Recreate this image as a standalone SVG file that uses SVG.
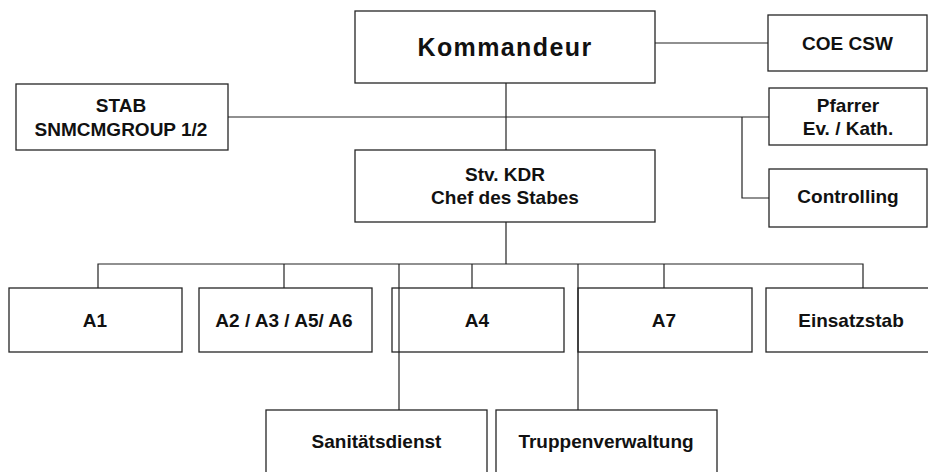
<svg xmlns="http://www.w3.org/2000/svg" width="928" height="472" viewBox="0 0 928 472">
  <style>
    .box { fill: #ffffff; stroke: #262626; stroke-width: 1.3; }
    .lbl { font-family: "Liberation Sans", Arial, sans-serif; font-weight: bold; font-size: 19px; fill: #111111; text-anchor: middle; }
    .big { font-size: 25px; letter-spacing: 1.4px; }
    .wire { fill: none; stroke: #222222; stroke-width: 1.2; }
  </style>
  <rect width="928" height="472" fill="#ffffff"/>

  <g id="kommandeur">
    <rect class="box" x="355" y="11" width="300" height="72"/>
    <text class="lbl big" x="505" y="56">Kommandeur</text>
  </g>
  <g id="coe-csw">
    <rect class="box" x="768" y="15" width="159" height="56"/>
    <text class="lbl" x="847.5" y="50">COE CSW</text>
  </g>
  <g id="stab">
    <rect class="box" x="16" y="84" width="212" height="66"/>
    <text class="lbl" x="121" y="112">STAB</text>
    <text class="lbl" x="121" y="136">SNMCMGROUP 1/2</text>
  </g>
  <g id="pfarrer">
    <rect class="box" x="769" y="88" width="158" height="57"/>
    <text class="lbl" x="848" y="112">Pfarrer</text>
    <text class="lbl" x="848" y="135">Ev. / Kath.</text>
  </g>
  <g id="stv-kdr">
    <rect class="box" x="355" y="150" width="300" height="72"/>
    <text class="lbl" x="505" y="181">Stv. KDR</text>
    <text class="lbl" x="505" y="204">Chef des Stabes</text>
  </g>
  <g id="controlling">
    <rect class="box" x="769" y="169" width="158" height="58"/>
    <text class="lbl" x="848" y="203">Controlling</text>
  </g>
  <g id="a1">
    <rect class="box" x="9" y="288" width="173" height="64"/>
    <text class="lbl" x="95" y="327">A1</text>
  </g>
  <g id="a2-a3-a5-a6">
    <rect class="box" x="199" y="288" width="173" height="64"/>
    <text class="lbl" x="284" y="327">A2 / A3 / A5/ A6</text>
  </g>
  <g id="a4">
    <rect class="box" x="392" y="288" width="172" height="64"/>
    <text class="lbl" x="477" y="327">A4</text>
  </g>
  <g id="a7">
    <rect class="box" x="578" y="288" width="174" height="64"/>
    <text class="lbl" x="664" y="327">A7</text>
  </g>
  <g id="einsatzstab">
    <rect class="box" x="766" y="288" width="172" height="64"/>
    <text class="lbl" x="851" y="327">Einsatzstab</text>
  </g>
  <g id="sanitaetsdienst">
    <rect class="box" x="266" y="410" width="221" height="70"/>
    <text class="lbl" x="376.5" y="448">Sanitätsdienst</text>
  </g>
  <g id="truppenverwaltung">
    <rect class="box" x="496" y="410" width="221" height="70"/>
    <text class="lbl" x="606" y="448">Truppenverwaltung</text>
  </g>

  <g id="connectors">
    <path class="wire" d="M655 43 H768"/>
    <path class="wire" d="M506 83 V150"/>
    <path class="wire" d="M228 117 H769"/>
    <path class="wire" d="M742 117 V198 H769"/>
    <path class="wire" d="M506 222 V264"/>
    <path class="wire" d="M98 288 V264 H863 V288"/>
    <path class="wire" d="M284 264 V288"/>
    <path class="wire" d="M472 264 V288"/>
    <path class="wire" d="M664 264 V288"/>
    <path class="wire" d="M399 264 V410"/>
    <path class="wire" d="M578 264 V410"/>
  </g>
</svg>
